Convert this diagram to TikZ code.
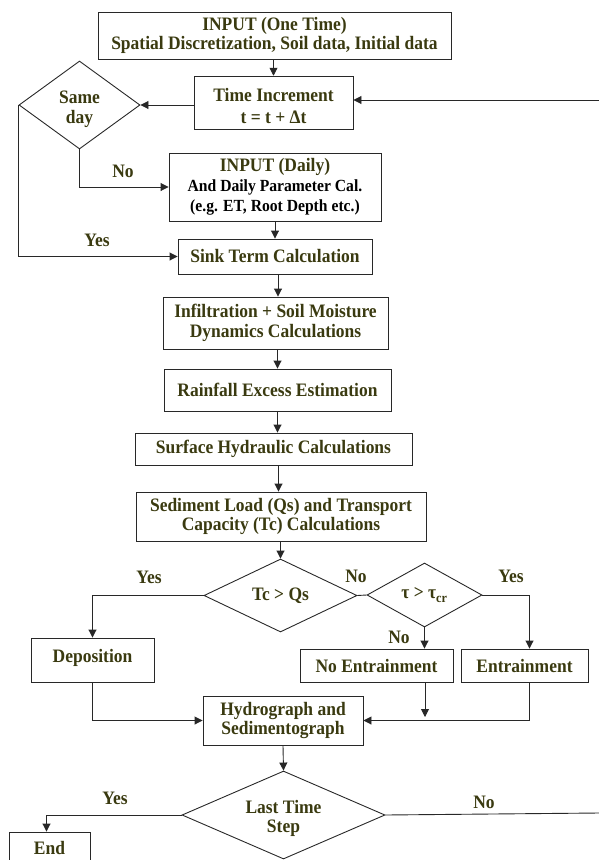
\documentclass[tikz,border=0pt]{standalone}
\usepackage{fontspec}
\setmainfont[FakeStretch=0.92]{Liberation Serif}
\usetikzlibrary{arrows.meta,shapes.geometric}
\definecolor{txtcol}{RGB}{58,58,16}
\definecolor{linecol}{RGB}{40,40,40}
\newcommand{\mainfs}{\bfseries\fontsize{19bp}{19.8bp}\selectfont}
\newcommand{\smallfs}{\bfseries\fontsize{17bp}{18.6bp}\selectfont}
% two centred lines: text, text, extra room above (pushes the lines down), extra gap between the lines
\newcommand{\twolines}[4]{\raisebox{0pt}[\dimexpr\height+#3\relax][\depth]{\begin{tabular}{@{}c@{}}#1\\[#4]#2\end{tabular}}}
\begin{document}
\begin{tikzpicture}[x=1bp,y=-1bp,
  every node/.style={text=txtcol, font=\mainfs},
  box/.style={draw=linecol, line width=0.9bp, inner sep=0pt, align=center},
  decision/.style={draw=linecol, line width=0.9bp, shape=diamond, inner sep=0pt, align=center},
  lbl/.style={inner sep=0pt},
  link/.style={draw=linecol, line width=0.9bp},
  arr/.style={link, -{Triangle[length=8bp,width=8bp]}}]
\clip (0,0) rectangle (599,860);

% process boxes
\node[box, minimum width=353bp, minimum height=47bp] (input1) at (274.5,35.5)
  {INPUT (One Time)\\Spatial Discretization, Soil data, Initial data};
\node[box, minimum width=159bp, minimum height=50bp] (ti) at (273.5,103)
  {\twolines{Time Increment}{t = t + Δt}{11bp}{3bp}};
\node[decision, aspect=1.375, minimum width=121bp, minimum height=88bp] (sameday) at (79.5,105)
  {\twolines{Same}{day}{9bp}{0bp}};
\node[box, minimum width=212bp, minimum height=68bp] (daily) at (275,187)
  {INPUT (Daily)\\{\smallfs\color{black}And Daily Parameter Cal.}\\{\smallfs\color{black}(e.g. ET, Root Depth etc.)}};
\node[box, minimum width=194bp, minimum height=35bp] (sink) at (275,256.5)
  {Sink Term Calculation};
\node[box, minimum width=225bp, minimum height=52bp] (infil) at (275.5,323)
  {Infiltration + Soil Moisture\\Dynamics Calculations};
\node[box, minimum width=227bp, minimum height=42bp] (rain) at (277.5,390)
  {Rainfall Excess Estimation};
\node[box, minimum width=277bp, minimum height=32bp] (surf) at (273.5,449)
  {Surface Hydraulic Calculations};
\node[box, minimum width=290bp, minimum height=49bp] (sed) at (281,516.5)
  {Sediment Load (Qs) and Transport\\Capacity (Tc) Calculations};
\node[decision, aspect=2.1, minimum width=153bp, minimum height=73bp] (tcqs) at (280.5,595.5)
  {Tc > Qs};
\node[decision, aspect=1.8, minimum width=115bp, minimum height=64bp] (tau) at (424.5,595)
  {τ > τ\textsubscript{cr}};
\node[box, minimum width=123bp, minimum height=44bp, text height=12bp, text depth=8bp] (dep) at (92.5,660)
  {Deposition};
\node[box, minimum width=153bp, minimum height=33bp] (noent) at (376.5,665.5)
  {No Entrainment};
\node[box, minimum width=127bp, minimum height=33bp] (ent) at (524.5,665.5)
  {Entrainment};
\node[box, minimum width=160bp, minimum height=49bp] (hydro) at (283,720.5)
  {Hydrograph and\\Sedimentograph};
\node[decision, aspect=2.3, minimum width=203bp, minimum height=88bp] (lts) at (283.5,815)
  {\twolines{Last Time}{Step}{8bp}{0bp}};
\node[box, minimum width=81bp, minimum height=32bp] (endb) at (49.5,848)
  {End};

% loose ends of the time loop and the join under No Entrainment
\coordinate (fbout) at (599,813);
\coordinate (fbin) at (599,100);
\coordinate (nejoin) at (425,717);

% connectors
\draw[arr] (input1.south -| ti.north) -- (ti.north);
\draw[arr] (ti.west |- sameday.east) -- (sameday.east);
\draw[arr] (fbin) -- (fbin -| ti.east);
\draw[arr] (sameday.south) |- (daily.west);
\draw[arr] (sameday.west) |- (sink.west);
\draw[arr] (daily.south) -- (sink.north);
\draw[arr] ([xshift=3bp]sink.south) -- ([xshift=3bp]sink.south |- infil.north);
\draw[arr] ([xshift=2bp]infil.south) -- ([xshift=2bp]infil.south |- rain.north);
\draw[arr] (rain.south) -- (rain.south |- surf.north);
\draw[arr] ([xshift=5bp]surf.south) -- ([xshift=5bp]surf.south |- sed.north);
\draw[arr] (sed.south -| tcqs.north) -- (tcqs.north);
\draw[arr] (tcqs.west) -| (dep.north);
\draw[link] (tcqs.east) -- (tau.west);
\draw[arr] (tau.south) -- (tau.south |- noent.north);
\draw[arr] (tau.east) -| ([xshift=5bp]ent.north);
\draw[arr] (dep.south) |- (hydro.west);
\draw[arr] ([xshift=5bp]ent.south) |- (hydro.east);
\draw[arr] (nejoin |- noent.south) -- (nejoin);
\draw[arr] (hydro.south) -- (lts.north);
\draw[arr] (lts.west) -| ([xshift=-3bp]endb.north);
\draw[link] (lts.east) -- (fbout);

% branch labels
\node[lbl] (l1) at (123,171) {No};
\node[lbl] (l2) at (97,240) {Yes};
\node[lbl] (l3) at (149,577) {Yes};
\node[lbl] (l4) at (356,576) {No};
\node[lbl] (l5) at (511,576) {Yes};
\node[lbl] (l6) at (399,637) {No};
\node[lbl] (l7) at (115,798) {Yes};
\node[lbl] (l8) at (484,802) {No};
\end{tikzpicture}
\end{document}
